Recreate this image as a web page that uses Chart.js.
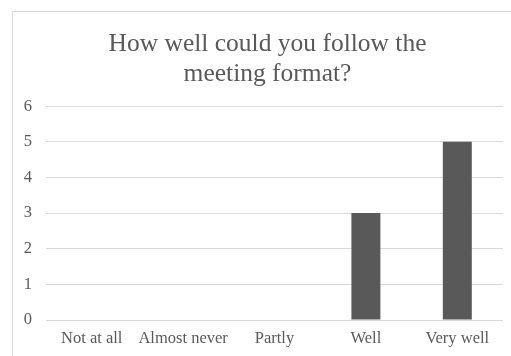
<!DOCTYPE html>
<html>
<head>
<meta charset="utf-8">
<script src="https://cdn.jsdelivr.net/npm/chart.js@4/dist/chart.umd.min.js"></script>
<style>
  html, body { margin: 0; padding: 0; background: #fff; }
  html { overflow: hidden; }
  #frame { position: fixed; left: 12px; top: 11px; right: -20px; bottom: -20px;
           border-left: 1px solid #d9d9d9; border-top: 1px solid #d9d9d9; }
  #wrap { position: fixed; left: 12px; top: 11px; width: 511px; height: 345px; }
</style>
</head>
<body>
<div id="frame"></div>
<div id="wrap"><canvas id="c"></canvas></div>
<script>
const categories = ['Not at all', 'Almost never', 'Partly', 'Well', 'Very well'];
const responses = [0, 0, 0, 3, 5];
const yTicks = [0, 1, 2, 3, 4, 5, 6];
const titleLines = ['How well could you follow the', 'meeting format?'];

const grey = '#595959';
const serif = "'Liberation Serif', 'Times New Roman', serif";

new Chart(document.getElementById('c'), {
  type: 'bar',
  data: {
    labels: categories,
    datasets: [{
      data: responses,
      backgroundColor: '#595959',
      borderWidth: 0,
      barPercentage: 0.317,
      categoryPercentage: 1
    }]
  },
  options: {
    responsive: true,
    maintainAspectRatio: false,
    animation: false,
    layout: { padding: 0 },
    plugins: {
      legend: { display: false },
      tooltip: { enabled: false },
      title: {
        display: true,
        text: titleLines,
        color: grey,
        font: { family: serif, size: 25.5, weight: 'normal', lineHeight: 1.18 },
        padding: { top: 18, bottom: 17 }
      }
    },
    scales: {
      x: {
        grid: { display: false, drawTicks: false },
        border: { display: false },
        ticks: { color: grey, font: { family: serif, size: 16.5 }, padding: 9, maxRotation: 0, autoSkip: false },
        afterFit: s => { s.height = 36; }
      },
      y: {
        min: 0, max: 6,
        afterBuildTicks: s => { s.ticks = yTicks.map(v => ({ value: v })); },
        grid: { color: '#d9d9d9', lineWidth: 1, drawTicks: false },
        border: { display: false },
        ticks: { color: grey, font: { family: serif, size: 16.5 }, padding: 14 },
        afterFit: s => { s.width = 34; }
      },
      // empty right-hand margin of the plot
      yRight: {
        position: 'right',
        display: true,
        grid: { display: false, drawTicks: false },
        border: { display: false },
        ticks: { display: false },
        afterFit: s => { s.width = 20; }
      }
    }
  }
});
</script>
</body>
</html>
